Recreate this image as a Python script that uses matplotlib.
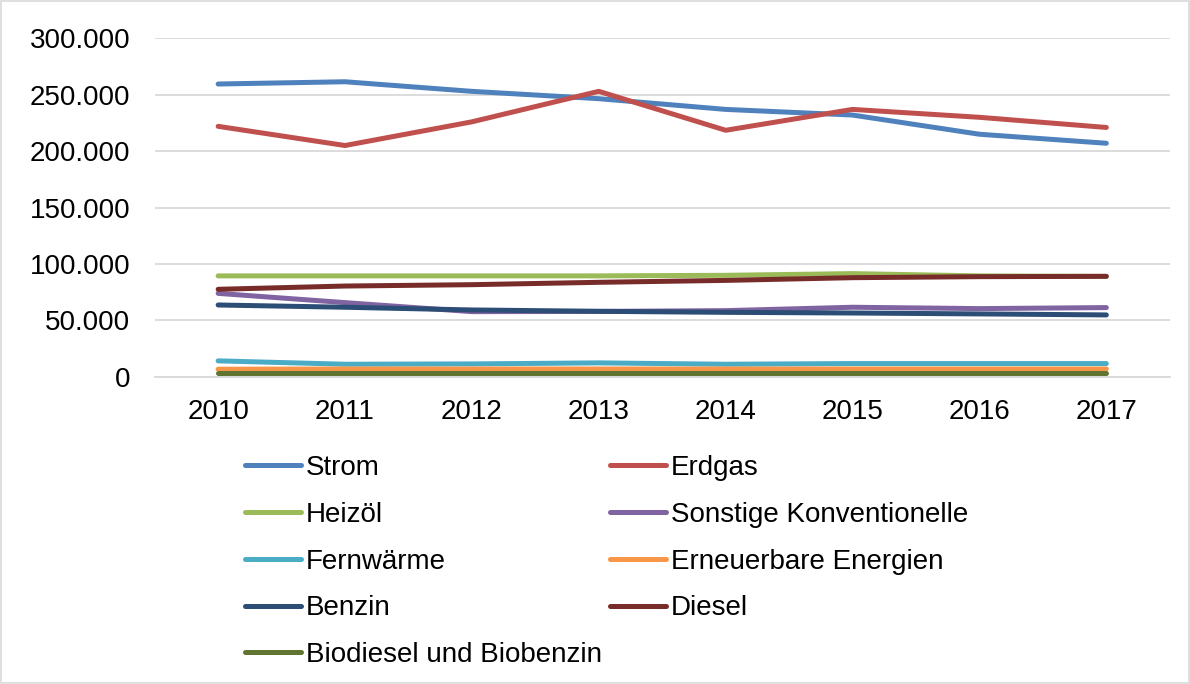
import matplotlib
matplotlib.use("Agg")
import matplotlib.pyplot as plt
from matplotlib.patches import Rectangle
from matplotlib.ticker import FuncFormatter, MultipleLocator

plt.rcParams['font.family'] = ['Liberation Sans', 'DejaVu Sans']

years = ["2010", "2011", "2012", "2013", "2014", "2015", "2016", "2017"]

strom = [259500, 261500, 253000, 246500, 237000, 232000, 215000, 207000]
erdgas = [222000, 205000, 226000, 253000, 218500, 237000, 230000, 221000]
heizoel = [89500, 89500, 89500, 89500, 90000, 91500, 89500, 89000]
sonstige = [74000, 65800, 57800, 58000, 58700, 61700, 60500, 61400]
fernwaerme = [14200, 11200, 11500, 12400, 11200, 11800, 11800, 11800]
erneuerbar = [6800, 7000, 7000, 7000, 7000, 7000, 7000, 7000]
benzin = [63700, 61700, 59300, 58100, 57200, 56600, 55800, 54900]
diesel = [77600, 80500, 81700, 83800, 85500, 87900, 88800, 89100]
biodiesel = [3800, 3800, 3800, 3800, 3800, 3800, 3800, 3800]

series = [
    ("Strom", strom, "#4F81BD"),
    ("Erdgas", erdgas, "#C0504D"),
    ("Heizöl", heizoel, "#9BBB59"),
    ("Sonstige Konventionelle", sonstige, "#8064A2"),
    ("Fernwärme", fernwaerme, "#4BACC6"),
    ("Erneuerbare Energien", erneuerbar, "#F79646"),
    ("Benzin", benzin, "#2C4D75"),
    ("Diesel", diesel, "#772C2A"),
    ("Biodiesel und Biobenzin", biodiesel, "#5F7530"),
]

fig = plt.figure(figsize=(11.9, 6.84), dpi=100)
ax = fig.add_axes([0.130, 0.449, 0.853, 0.495])

x = list(range(len(years)))
handles = {}
for name, vals, col in series:
    h, = ax.plot(x, vals, color=col, lw=3.6, solid_capstyle='round',
                 solid_joinstyle='round', label=name)
    handles[name] = h

ax.set_xlim(-0.5, len(years) - 0.5)
ax.set_ylim(0, 300000)
ax.yaxis.set_major_locator(MultipleLocator(50000))
ax.yaxis.set_major_formatter(FuncFormatter(lambda v, p: f"{int(v):,}".replace(",", ".")))
ax.set_xticks(x)
ax.set_xticklabels(years)
ax.grid(axis='y', color='#D9D9D9', lw=1.3)
ax.set_axisbelow(True)
for s in ['top', 'right', 'left']:
    ax.spines[s].set_visible(False)
ax.spines['bottom'].set_color('#D9D9D9')
ax.spines['bottom'].set_linewidth(1.3)
ax.tick_params(axis='both', length=0, labelsize=20, colors='black')
ax.tick_params(axis='y', pad=17.5)
ax.tick_params(axis='x', pad=16)

order = ["Strom", "Heizöl", "Fernwärme", "Benzin", "Biodiesel und Biobenzin",
         "Erdgas", "Sonstige Konventionelle", "Erneuerbare Energien", "Diesel"]
leg = fig.legend([handles[n] for n in order], order, ncol=2,
                 loc='upper left', bbox_to_anchor=(0.206, 0.335),
                 frameon=False, fontsize=20, handlelength=2.0,
                 handletextpad=0.18, columnspacing=0.3, labelspacing=0.75,
                 borderaxespad=0, borderpad=0)

fig.add_artist(Rectangle((0.0008, 0.0012), 0.9984, 0.9976, transform=fig.transFigure,
                         fill=False, edgecolor='#D9D9D9', lw=1.2))

fig.savefig("out.png", dpi=100)
